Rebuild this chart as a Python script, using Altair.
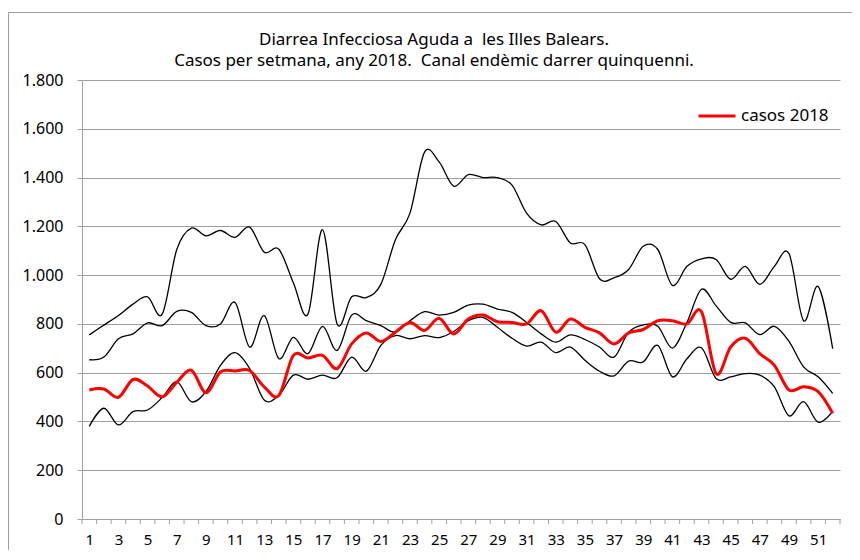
import altair as alt
import pandas as pd

weeks = list(range(1, 53))

upper = [755, 795, 834, 881, 911, 840, 1105, 1193, 1161, 1183, 1155, 1197, 1094, 1106,
         969, 840, 1186, 800, 911, 908, 962, 1145, 1254, 1504, 1464, 1365, 1412, 1400,
         1400, 1369, 1254, 1206, 1220, 1132, 1125, 985, 989, 1023, 1118, 1105, 958, 1036,
         1067, 1064, 983, 1036, 962, 1036, 1088, 813, 953, 698]

middle = [653, 664, 739, 759, 804, 793, 851, 847, 793, 800, 888, 705, 834, 658,
          745, 678, 790, 691, 836, 813, 793, 766, 813, 850, 836, 847, 877, 881,
          861, 847, 806, 759, 725, 755, 736, 705, 664, 766, 796, 790, 701, 806,
          942, 874, 806, 804, 756, 790, 728, 624, 583, 515]

lower = [380, 454, 386, 440, 447, 498, 563, 481, 522, 630, 682, 617, 488, 506,
         590, 573, 590, 579, 664, 606, 712, 752, 739, 752, 744, 769, 813, 827,
         786, 741, 709, 725, 682, 705, 651, 606, 587, 647, 644, 712, 583, 657,
         702, 576, 583, 596, 590, 542, 423, 481, 397, 441]

cases_2018 = [529, 533, 499, 572, 545, 501, 560, 610, 518, 603, 607, 609, 542, 506,
              671, 660, 671, 617, 718, 763, 728, 766, 806, 773, 823, 759, 820, 836,
              809, 806, 800, 854, 766, 820, 786, 763, 718, 763, 777, 813, 813, 800,
              850, 596, 705, 741, 678, 630, 529, 542, 522, 434]

x_labels = [w for w in weeks if w % 2 == 1]
y_ticks = list(range(0, 1801, 200))

title_lines = ["Diarrea Infecciosa Aguda a \u00a0les Illes Balears.",
               "Casos per setmana, any 2018. \u00a0Canal endèmic darrer quinquenni."]

band_rows = []
for name, series in (("superior", upper), ("mitjana", middle), ("inferior", lower)):
    for w, v in zip(weeks, series):
        band_rows.append({"setmana": w, "serie": name, "valor": v})
band_df = pd.DataFrame(band_rows)
red_df = pd.DataFrame({"setmana": weeks, "valor": cases_2018, "serie": "casos 2018"})
tick_df = pd.DataFrame({"limit": [w - 0.5 for w in weeks] + [weeks[-1] + 0.5]})

GREY = "#a0a0a0"
FONT = "Noto Sans"

x_scale = alt.Scale(domain=[0.5, 52.5], nice=False, zero=False)
y_scale = alt.Scale(domain=[0, 1800], nice=False)

x_axis = alt.Axis(values=x_labels, ticks=False, grid=False, labelFontSize=15,
                  labelFont=FONT, labelColor="#000", labelPadding=13, labelAngle=0,
                  domainColor=GREY, title=None, labelFlush=False, labelOverlap=False)
y_axis = alt.Axis(values=y_ticks,
                  labelExpr="replace(format(datum.value, ','), ',', '.')",
                  tickSize=5, tickColor=GREY, gridColor=GREY, grid=True,
                  domainColor=GREY, labelFontSize=16, labelFont=FONT,
                  labelColor="#000", labelPadding=14, title=None)

one_row = alt.Data(values=[{"a": 1}])

frame = alt.Chart(one_row).mark_rect(
    fillOpacity=0, stroke=GREY, strokeWidth=1
).encode(x=alt.value(-73.5), x2=alt.value(900), y=alt.value(-67.5), y2=alt.value(700))

title1 = alt.Chart(one_row).mark_text(
    text=title_lines[0], font=FONT, fontSize=17, color="#000", align="center", baseline="middle"
).encode(x=alt.value(352), y=alt.value(-40))

title2 = alt.Chart(one_row).mark_text(
    text=title_lines[1], font=FONT, fontSize=17, color="#000", align="center", baseline="middle"
).encode(x=alt.value(352), y=alt.value(-19))

black = alt.Chart(band_df).mark_line(
    color="#000", strokeWidth=1.3, interpolate="cardinal"
).encode(
    x=alt.X("setmana:Q", scale=x_scale, axis=x_axis),
    y=alt.Y("valor:Q", scale=y_scale, axis=y_axis),
    detail="serie:N",
)

red = alt.Chart(red_df).mark_line(strokeWidth=3, interpolate="cardinal").encode(
    x=alt.X("setmana:Q", scale=x_scale, axis=x_axis),
    y=alt.Y("valor:Q", scale=y_scale, axis=y_axis),
    color=alt.Color("serie:N", scale=alt.Scale(domain=["casos 2018"], range=["#ff0000"]),
                    legend=alt.Legend(orient="none", legendX=615, legendY=16, title=None,
                                      symbolType="stroke", symbolSize=1369,
                                      symbolStrokeWidth=3, labelFontSize=17,
                                      labelFont=FONT, labelColor="#000",
                                      labelOffset=4, padding=0)),
)

ticks = alt.Chart(tick_df).mark_rule(color=GREY).encode(
    x=alt.X("limit:Q", scale=x_scale, axis=x_axis),
    y=alt.value(439), y2=alt.value(444),
)

chart = alt.layer(frame, title1, title2, black, red, ticks).properties(
    width=758, height=439,
    autosize=alt.AutoSizeParams(type="none"),
    padding={"left": 74, "top": 72, "right": 12, "bottom": 31},
).configure_view(stroke=None)

chart.save("out.html", embed_options={"renderer": "svg", "actions": False})
